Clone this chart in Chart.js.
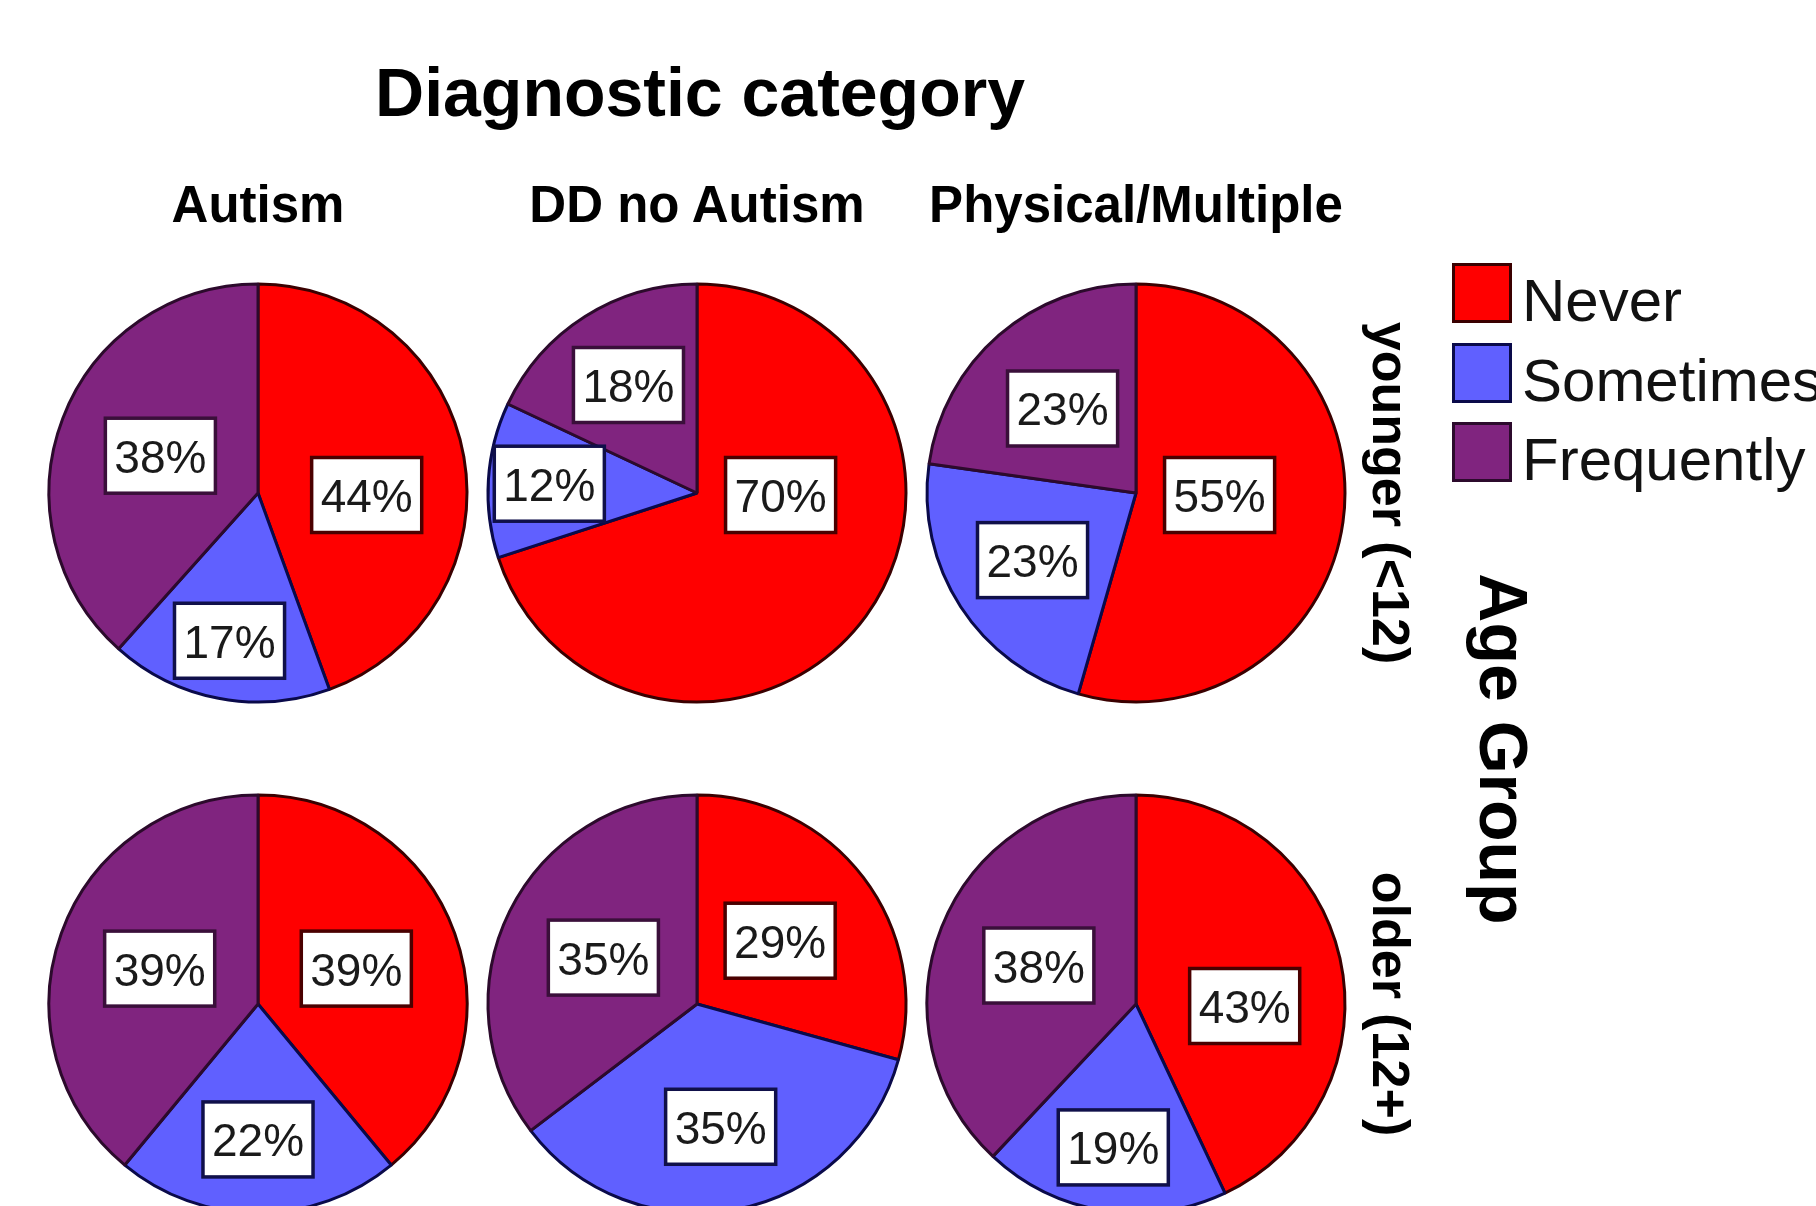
<!DOCTYPE html>
<html>
<head>
<meta charset="utf-8">
<title>Diagnostic category by Age Group</title>
<script src="https://cdn.jsdelivr.net/npm/chart.js@4.4.0/dist/chart.umd.min.js"></script>
<style>
  html, body { margin: 0; padding: 0; background: #fff; width: 1816px; height: 1206px; overflow: hidden;
               font-family: "Liberation Sans", Arial, sans-serif; color: #000; }
  .pie { position: absolute; width: 440px; height: 440px; }
  .txt { position: absolute; white-space: nowrap; }
  .title { font-size: 68px; line-height: 68px; font-weight: bold; transform: translateX(-50%); }
  .col { font-size: 51px; line-height: 51px; font-weight: bold; transform: translateX(-50%); }
  .row { font-size: 52px; line-height: 52px; font-weight: bold; transform: translate(-50%, -50%) rotate(90deg); }
  .axis { font-size: 68px; line-height: 68px; font-weight: bold; transform: translate(-50%, -50%) rotate(90deg); }
  .swatch { position: absolute; width: 54px; height: 54px; border: 3px solid #222; }
  .key { font-size: 60px; line-height: 60px; color: #111; }
</style>
</head>
<body>
<div id="stage"></div>
<script>
// Response categories and panel headings
const responseLevels = ['Never', 'Sometimes', 'Frequently'];
const diagnosticGroups = ['Autism', 'DD no Autism', 'Physical/Multiple'];
const ageGroups = ['younger (<12)', 'older (12+)'];

// Percent of respondents per response level (Never, Sometimes, Frequently)
const youngerAutism   = [44, 17, 38];
const youngerDD       = [70, 12, 18];
const youngerPhysical = [55, 23, 23];
const olderAutism     = [39, 22, 39];
const olderDD         = [29, 35, 35];
const olderPhysical   = [43, 19, 38];

const panels = [
  [youngerAutism, youngerDD, youngerPhysical],
  [olderAutism, olderDD, olderPhysical]
];

// Styling
const sliceFill = ['#ff0000', '#6060ff', '#80247f'];
const sliceEdge = ['#3a0000', '#0a0a4a', '#2c0a2c'];
const boxEdge   = ['#4a0000', '#10104a', '#3a0f3a'];

// Grid layout
const colCenters = [258, 697, 1136];
const rowCenters = [493, 1004];
const pieRadius = 209;
const half = 220;

const stage = document.getElementById('stage');

function addText(cls, text, left, top) {
  const d = document.createElement('div');
  d.className = 'txt ' + cls;
  d.textContent = text;
  d.style.left = left + 'px';
  d.style.top = top + 'px';
  stage.appendChild(d);
  return d;
}

// Headings
addText('title', 'Diagnostic category', 700, 58);
diagnosticGroups.forEach((g, i) => addText('col', g, colCenters[i], 179));
ageGroups.forEach((g, i) => addText('row', g, 1391, rowCenters[i]));
addText('axis', 'Age Group', 1504, 749);

// Legend
const legendTop = [263, 343, 422];
responseLevels.forEach((lvl, i) => {
  const sw = document.createElement('div');
  sw.className = 'swatch';
  sw.style.left = '1452px';
  sw.style.top = legendTop[i] + 'px';
  sw.style.background = sliceFill[i];
  sw.style.borderColor = sliceEdge[i];
  stage.appendChild(sw);
  addText('key', lvl, 1522, legendTop[i] + 8);
});

// Percentage labels in white boxes
const boxLabels = {
  id: 'boxLabels',
  afterDatasetsDraw(chart) {
    const ctx = chart.ctx;
    const ds = chart.data.datasets[0];
    const values = ds.data;
    const total = values.reduce((a, b) => a + b, 0);
    const meta = chart.getDatasetMeta(0);
    ctx.save();
    ctx.font = '46px "Liberation Sans", Arial, sans-serif';
    ctx.textAlign = 'center';
    ctx.textBaseline = 'alphabetic';
    meta.data.forEach((arc, i) => {
      const p = arc.getProps(['x', 'y', 'startAngle', 'endAngle', 'outerRadius'], true);
      const f = values[i] / total;
      const mid = (p.startAngle + p.endAngle) / 2;
      let lx, ly;
      if (f > 0.4) {
        // large slices carry their label on the horizontal through the centre
        const side = Math.cos(mid) >= 0 ? 1 : -1;
        const d = (f < 0.5 ? 0.52 : 0.40) * p.outerRadius;
        lx = p.x + side * d;
        ly = p.y + 2;
      } else {
        const k = Math.min(0.72, 0.5 + 1.6 * Math.max(0, 0.25 - f) + 0.1 * Math.max(0, Math.sin(mid)));
        lx = p.x + Math.cos(mid) * k * p.outerRadius;
        ly = p.y + Math.sin(mid) * k * p.outerRadius;
      }
      const text = values[i] + '%';
      const w = ctx.measureText(text).width + 18;
      const h = 75;
      ctx.fillStyle = '#ffffff';
      ctx.fillRect(lx - w / 2, ly - h / 2, w, h);
      ctx.lineWidth = 3.5;
      ctx.strokeStyle = boxEdge[i];
      ctx.strokeRect(lx - w / 2, ly - h / 2, w, h);
      ctx.fillStyle = '#1a1a1a';
      ctx.fillText(text, lx, ly + 17);
    });
    ctx.restore();
  }
};

panels.forEach((row, r) => {
  row.forEach((values, c) => {
    const cv = document.createElement('canvas');
    cv.className = 'pie';
    cv.width = 2 * half;
    cv.height = 2 * half;
    cv.style.left = (colCenters[c] - half) + 'px';
    cv.style.top = (rowCenters[r] - half) + 'px';
    stage.appendChild(cv);
    new Chart(cv, {
      type: 'pie',
      data: {
        labels: responseLevels,
        datasets: [{
          data: values,
          backgroundColor: sliceFill,
          borderColor: sliceEdge,
          borderWidth: 3
        }]
      },
      options: {
        responsive: false,
        animation: false,
        events: [],
        radius: pieRadius,
        layout: { padding: 0 },
        plugins: { legend: { display: false }, tooltip: { enabled: false } }
      },
      plugins: [boxLabels]
    });
  });
});
</script>
</body>
</html>
